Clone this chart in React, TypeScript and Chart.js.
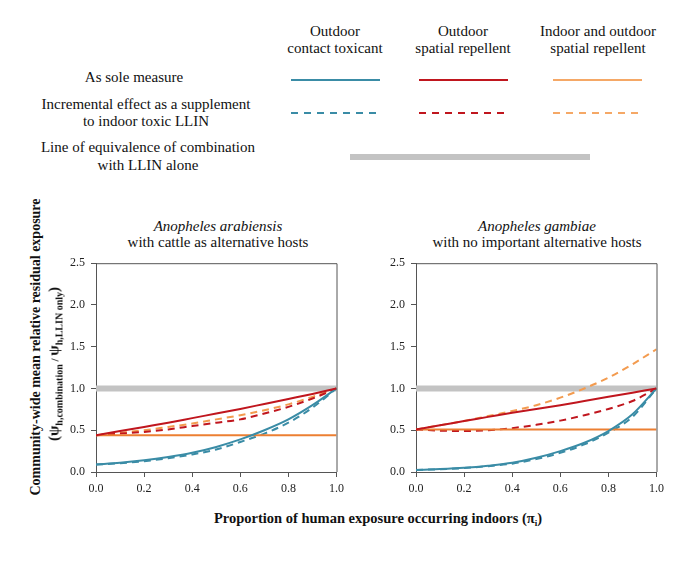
import React, { useEffect, useRef } from "react";
import { Chart, registerables } from "chart.js";

Chart.register(...registerables);

// ---- data ----
const PI_INDOORS = [0, 0.1, 0.2, 0.3, 0.4, 0.5, 0.6, 0.7, 0.8, 0.9, 1.0];
const X_TICKS = [0, 0.2, 0.4, 0.6, 0.8, 1.0];
const Y_TICKS = [0, 0.5, 1.0, 1.5, 2.0, 2.5];
const EQUIVALENCE = 1.0;

// Anopheles arabiensis (cattle as alternative hosts)
const ARAB_CONTACT_SOLE = [0.09, 0.11, 0.14, 0.18, 0.23, 0.3, 0.39, 0.5, 0.63, 0.8, 1.0];
const ARAB_CONTACT_SUPP = [0.09, 0.105, 0.13, 0.165, 0.21, 0.27, 0.36, 0.46, 0.59, 0.77, 1.0];
const ARAB_SPATIAL_SOLE = [0.44, 0.49, 0.54, 0.59, 0.645, 0.7, 0.755, 0.815, 0.875, 0.935, 1.0];
const ARAB_SPATIAL_SUPP = [0.44, 0.46, 0.48, 0.51, 0.55, 0.59, 0.63, 0.7, 0.78, 0.88, 1.0];
const ARAB_INOUT_SOLE = [0.44, 0.44, 0.44, 0.44, 0.44, 0.44, 0.44, 0.44, 0.44, 0.44, 0.44];
const ARAB_INOUT_SUPP = [0.44, 0.47, 0.5, 0.54, 0.58, 0.63, 0.68, 0.74, 0.81, 0.9, 1.0];

// Anopheles gambiae (no important alternative hosts)
const GAMB_CONTACT_SOLE = [0.025, 0.035, 0.05, 0.075, 0.11, 0.17, 0.25, 0.35, 0.49, 0.69, 1.0];
const GAMB_CONTACT_SUPP = [0.025, 0.033, 0.047, 0.07, 0.1, 0.155, 0.23, 0.33, 0.47, 0.66, 1.0];
const GAMB_SPATIAL_SOLE = [0.51, 0.56, 0.61, 0.66, 0.71, 0.755, 0.8, 0.85, 0.9, 0.95, 1.0];
const GAMB_SPATIAL_SUPP = [0.51, 0.495, 0.49, 0.5, 0.525, 0.565, 0.615, 0.68, 0.755, 0.85, 1.0];
const GAMB_INOUT_SOLE = [0.51, 0.51, 0.51, 0.51, 0.51, 0.51, 0.51, 0.51, 0.51, 0.51, 0.51];
const GAMB_INOUT_SUPP = [0.51, 0.56, 0.61, 0.67, 0.73, 0.8, 0.89, 1.0, 1.13, 1.29, 1.47];

// ---- styles ----
const SERIF = "'Liberation Serif', 'Times New Roman', serif";
const BLUE = "#3a8ca6";
const RED = "#c0161e";
const ORANGE_SOLID = "#ec7f32";
const ORANGE_DASH = "#f39b4f";
const ORANGE_LEGEND = "#f5a866";
const GRAY = "#c3c3c3";
const AXIS = "#555";
const DASH = [7, 5];

type Series = { ys: number[]; color: string; dashed: boolean };

const framePlugin = {
  id: "frame",
  afterDraw(chart: any) {
    const { ctx, chartArea } = chart;
    ctx.save();
    ctx.strokeStyle = AXIS;
    ctx.lineWidth = 1;
    ctx.beginPath();
    ctx.moveTo(chartArea.left, chartArea.top + 0.5);
    ctx.lineTo(chartArea.right + 0.5, chartArea.top + 0.5);
    ctx.lineTo(chartArea.right + 0.5, chartArea.bottom);
    ctx.stroke();
    ctx.restore();
  },
};

function Panel({ left, series }: { left: number; series: Series[] }) {
  const ref = useRef<HTMLCanvasElement>(null);
  useEffect(() => {
    const datasets: any[] = series.map((s, i) => ({
      data: PI_INDOORS.map((x, k) => ({ x, y: s.ys[k] })),
      borderColor: s.color,
      borderWidth: 2,
      borderDash: s.dashed ? DASH : [],
      pointRadius: 0,
      fill: false,
      cubicInterpolationMode: "monotone",
      order: i,
    }));
    datasets.push({
      data: [
        { x: PI_INDOORS[0], y: EQUIVALENCE },
        { x: PI_INDOORS[PI_INDOORS.length - 1], y: EQUIVALENCE },
      ],
      borderColor: GRAY,
      borderWidth: 6,
      pointRadius: 0,
      fill: false,
      order: 100,
    });
    const tickFont = { family: SERIF, size: 12 };
    const chart = new Chart(ref.current as HTMLCanvasElement, {
      type: "line",
      data: { datasets },
      options: {
        responsive: false,
        animation: false,
        layout: { padding: { top: 10, right: 10, left: 0, bottom: 0 } },
        plugins: { legend: { display: false }, tooltip: { enabled: false } },
        scales: {
          x: {
            type: "linear",
            min: X_TICKS[0],
            max: X_TICKS[X_TICKS.length - 1],
            afterBuildTicks: (s: any) => {
              s.ticks = X_TICKS.map((v) => ({ value: v }));
            },
            afterFit: (s: any) => {
              s.height = 30;
            },
            ticks: {
              callback: (v: any) => Number(v).toFixed(1),
              font: tickFont,
              color: "#222",
              padding: 5,
              maxRotation: 0,
            },
            grid: { drawOnChartArea: false, drawTicks: true, tickLength: 5, color: AXIS },
            border: { color: AXIS },
          },
          y: {
            type: "linear",
            min: Y_TICKS[0],
            max: Y_TICKS[Y_TICKS.length - 1],
            afterBuildTicks: (s: any) => {
              s.ticks = Y_TICKS.map((v) => ({ value: v }));
            },
            afterFit: (s: any) => {
              s.width = 40;
            },
            ticks: {
              callback: (v: any) => Number(v).toFixed(1),
              font: tickFont,
              color: "#222",
              padding: 6,
            },
            grid: { drawOnChartArea: false, drawTicks: true, tickLength: 5, color: AXIS },
            border: { color: AXIS },
          },
        },
      } as any,
      plugins: [framePlugin],
    });
    return () => chart.destroy();
  }, []);
  return (
    <canvas
      ref={ref}
      width={293}
      height={252}
      style={{ position: "absolute", left, top: 250, width: 293, height: 252 }}
    />
  );
}

function Txt({
  x,
  y,
  children,
  size = 15,
  bold = false,
  italic = false,
}: {
  x: number;
  y: number;
  children: any;
  size?: number;
  bold?: boolean;
  italic?: boolean;
}) {
  return (
    <div
      style={{
        position: "absolute",
        left: x,
        top: y,
        transform: "translate(-50%, -50%)",
        whiteSpace: "nowrap",
        fontFamily: SERIF,
        fontSize: size,
        lineHeight: "17px",
        fontWeight: bold ? "bold" : "normal",
        fontStyle: italic ? "italic" : "normal",
        color: "#111",
      }}
    >
      {children}
    </div>
  );
}

function LegendLine({ x1, x2, y, color, dashed, w = 2 }: any) {
  return (
    <div
      style={{
        position: "absolute",
        left: x1,
        top: y - w / 2,
        width: x2 - x1,
        height: w,
        background: dashed
          ? `repeating-linear-gradient(to right, ${color} 0px, ${color} 7px, transparent 7px, transparent 13px)`
          : color,
      }}
    />
  );
}

export default function App() {
  const arab: Series[] = [
    { ys: ARAB_SPATIAL_SOLE, color: RED, dashed: false },
    { ys: ARAB_CONTACT_SOLE, color: BLUE, dashed: false },
    { ys: ARAB_INOUT_SOLE, color: ORANGE_SOLID, dashed: false },
    { ys: ARAB_SPATIAL_SUPP, color: RED, dashed: true },
    { ys: ARAB_INOUT_SUPP, color: ORANGE_DASH, dashed: true },
    { ys: ARAB_CONTACT_SUPP, color: BLUE, dashed: true },
  ];
  const gamb: Series[] = [
    { ys: GAMB_SPATIAL_SOLE, color: RED, dashed: false },
    { ys: GAMB_CONTACT_SOLE, color: BLUE, dashed: false },
    { ys: GAMB_INOUT_SOLE, color: ORANGE_SOLID, dashed: false },
    { ys: GAMB_SPATIAL_SUPP, color: RED, dashed: true },
    { ys: GAMB_INOUT_SUPP, color: ORANGE_DASH, dashed: true },
    { ys: GAMB_CONTACT_SUPP, color: BLUE, dashed: true },
  ];
  return (
    <div
      style={{
        position: "fixed",
        left: 0,
        top: 0,
        width: 685,
        height: 562,
        background: "#fff",
        overflow: "hidden",
      }}
    >
      {/* legend headers */}
      <Txt x={335} y={31}>Outdoor</Txt>
      <Txt x={335} y={48}>contact toxicant</Txt>
      <Txt x={463} y={31}>Outdoor</Txt>
      <Txt x={463} y={48}>spatial repellent</Txt>
      <Txt x={598} y={31}>Indoor and outdoor</Txt>
      <Txt x={598} y={48}>spatial repellent</Txt>

      {/* legend rows */}
      <Txt x={134} y={77}>As sole measure</Txt>
      <Txt x={146} y={104}>Incremental effect as a supplement</Txt>
      <Txt x={146} y={121}>to indoor toxic LLIN</Txt>
      <Txt x={148} y={147}>Line of equivalence of combination</Txt>
      <Txt x={148} y={165}>with LLIN alone</Txt>

      <LegendLine x1={291} x2={380} y={80} color={BLUE} />
      <LegendLine x1={419} x2={508} y={80} color={RED} />
      <LegendLine x1={553} x2={642} y={80} color={ORANGE_LEGEND} />
      <LegendLine x1={291} x2={378} y={113} color={BLUE} dashed />
      <LegendLine x1={419} x2={506} y={113} color={RED} dashed />
      <LegendLine x1={553} x2={640} y={113} color={ORANGE_LEGEND} dashed />
      <LegendLine x1={350} x2={590} y={157} color={GRAY} w={6} />

      {/* panel titles */}
      <Txt x={218} y={226} italic>Anopheles arabiensis</Txt>
      <Txt x={218} y={242}>with cattle as alternative hosts</Txt>
      <Txt x={537} y={226} italic>Anopheles gambiae</Txt>
      <Txt x={537} y={242}>with no important alternative hosts</Txt>

      <Panel left={56} series={arab} />
      <Panel left={376} series={gamb} />

      {/* y-axis title */}
      <div
        style={{
          position: "absolute",
          left: 36,
          top: 347,
          transform: "translate(-50%, -50%) rotate(-90deg)",
          whiteSpace: "nowrap",
          fontFamily: SERIF,
          fontSize: 14,
          fontWeight: "bold",
          color: "#111",
        }}
      >
        Community-wide mean relative residual exposure
      </div>
      <div
        style={{
          position: "absolute",
          left: 55,
          top: 364,
          transform: "translate(-50%, -50%) rotate(-90deg)",
          whiteSpace: "nowrap",
          fontFamily: SERIF,
          fontSize: 15,
          fontWeight: "bold",
          color: "#111",
        }}
      >
        (ψ<sub style={{ fontSize: 10 }}>h,combination</sub>
        <span style={{ fontSize: 11 }}> / </span>ψ<sub style={{ fontSize: 10 }}>h,LLIN only</sub>)
      </div>

      {/* x-axis title */}
      <Txt x={378} y={521} size={14.5} bold>
        Proportion of human exposure occurring indoors (π<sub style={{ fontSize: 9 }}>i</sub>)
      </Txt>
    </div>
  );
}
